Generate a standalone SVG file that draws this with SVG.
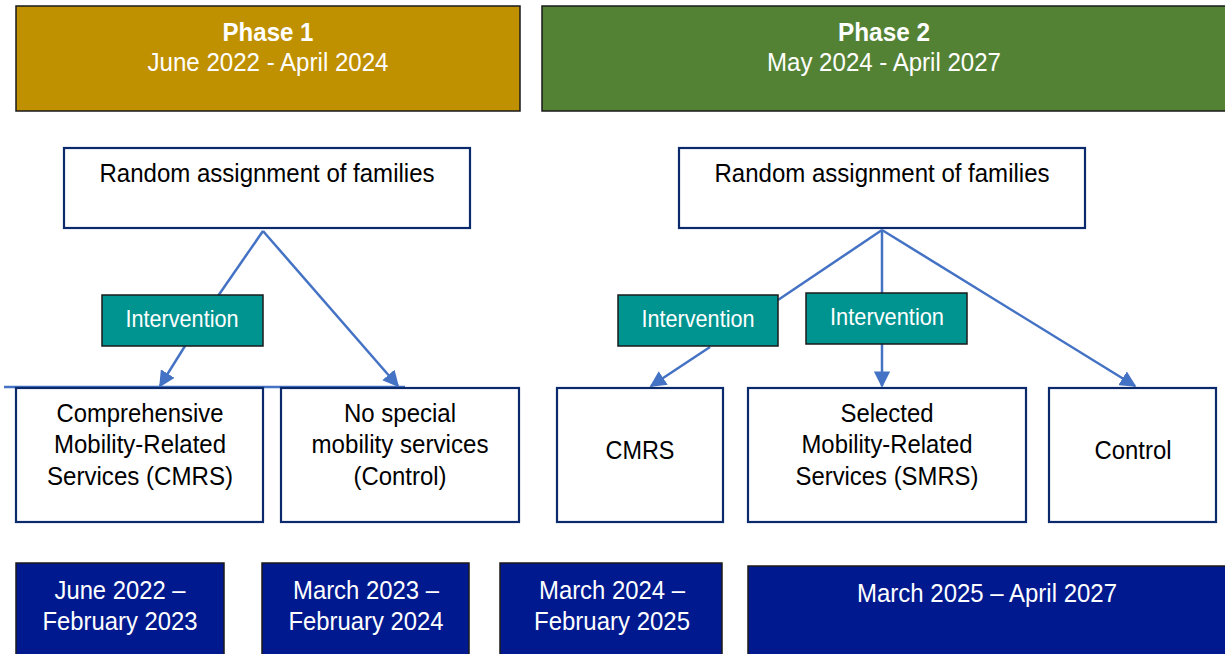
<svg xmlns="http://www.w3.org/2000/svg" width="1225" height="654" viewBox="0 0 1225 654">
  <defs>
    <marker id="arrow" viewBox="0 0 10 10" refX="9" refY="5" markerWidth="6.5" markerHeight="6.5" orient="auto" markerUnits="strokeWidth">
      <path d="M0,0 L10,5 L0,10 z" fill="#4472C4"/>
    </marker>
  </defs>
  <style>
    text { font-family: "Liberation Sans Narrow", "Liberation Sans", Arial, sans-serif; text-anchor: middle; }
    .phase1 { fill: #BF9000; stroke: #1a1a1a; stroke-width: 1.5; }
    .phase2 { fill: #548235; stroke: #1a1a1a; stroke-width: 1.5; }
    .box { fill: #ffffff; stroke: #0B2A6B; stroke-width: 2.2; }
    .interv { fill: #009490; stroke: #1a1a1a; stroke-width: 1.5; }
    .date { fill: #00198F; stroke: #1a1a1a; stroke-width: 1.5; }
    .white { fill: #ffffff; font-size: 26.5px; }
    .bold { font-weight: bold; }
    .dark { fill: #000000; font-size: 26.5px; }
    .ilabel { fill: #ffffff; font-size: 24.5px; }
    .conn { stroke: #4472C4; stroke-width: 2.5; fill: none; }
  </style>

  <!-- phase banners -->
  <g id="phase1">
    <rect class="phase1" x="16" y="6" width="504" height="105"/>
    <text class="white bold" x="268" y="41" textLength="91" lengthAdjust="spacingAndGlyphs">Phase 1</text>
    <text class="white" x="268" y="71" textLength="241" lengthAdjust="spacingAndGlyphs">June 2022 - April 2024</text>
  </g>
  <g id="phase2">
    <rect class="phase2" x="542" y="6" width="690" height="105"/>
    <text class="white bold" x="884" y="41" textLength="92" lengthAdjust="spacingAndGlyphs">Phase 2</text>
    <text class="white" x="884" y="71" textLength="234" lengthAdjust="spacingAndGlyphs">May 2024 - April 2027</text>
  </g>

  <!-- connectors -->
  <g id="connectors">
    <line class="conn" x1="263" y1="231" x2="218" y2="296"/>
    <line class="conn" x1="185" y1="346" x2="160" y2="386" marker-end="url(#arrow)"/>
    <line class="conn" x1="263" y1="231" x2="398" y2="386" marker-end="url(#arrow)"/>
    <line class="conn" x1="4" y1="387" x2="405" y2="387"/>
    <line class="conn" x1="213" y1="387" x2="213" y2="402"/>
    <line class="conn" x1="882" y1="230" x2="778" y2="300"/>
    <line class="conn" x1="710" y1="347" x2="651" y2="386" marker-end="url(#arrow)"/>
    <line class="conn" x1="882" y1="230" x2="882" y2="294"/>
    <line class="conn" x1="882" y1="344" x2="882" y2="386" marker-end="url(#arrow)"/>
    <line class="conn" x1="882" y1="230" x2="1135" y2="386" marker-end="url(#arrow)"/>
  </g>

  <!-- randomisation -->
  <g id="random1">
    <rect class="box" x="64" y="148" width="406" height="80"/>
    <text class="dark" x="267" y="182" textLength="335" lengthAdjust="spacingAndGlyphs">Random assignment of families</text>
  </g>
  <g id="random2">
    <rect class="box" x="679" y="148" width="406" height="80"/>
    <text class="dark" x="882" y="182" textLength="335" lengthAdjust="spacingAndGlyphs">Random assignment of families</text>
  </g>

  <!-- intervention tags -->
  <g id="intervention1">
    <rect class="interv" x="102" y="295" width="161" height="51"/>
    <text class="ilabel" x="182" y="327" textLength="113" lengthAdjust="spacingAndGlyphs">Intervention</text>
  </g>
  <g id="intervention2">
    <rect class="interv" x="618" y="295" width="160" height="51"/>
    <text class="ilabel" x="698" y="327" textLength="113" lengthAdjust="spacingAndGlyphs">Intervention</text>
  </g>
  <g id="intervention3">
    <rect class="interv" x="806" y="293" width="161" height="51"/>
    <text class="ilabel" x="887" y="325" textLength="114" lengthAdjust="spacingAndGlyphs">Intervention</text>
  </g>

  <!-- study arms -->
  <g id="cmrs1">
    <rect class="box" x="16" y="388" width="247" height="134"/>
    <text class="dark" x="140" y="422" textLength="167" lengthAdjust="spacingAndGlyphs">Comprehensive</text>
    <text class="dark" x="140" y="453" textLength="172" lengthAdjust="spacingAndGlyphs">Mobility-Related</text>
    <text class="dark" x="140" y="485" textLength="186" lengthAdjust="spacingAndGlyphs">Services (CMRS)</text>
  </g>
  <g id="control1">
    <rect class="box" x="281" y="388" width="238" height="134"/>
    <text class="dark" x="400" y="422" textLength="112" lengthAdjust="spacingAndGlyphs">No special</text>
    <text class="dark" x="400" y="453" textLength="177" lengthAdjust="spacingAndGlyphs">mobility services</text>
    <text class="dark" x="400" y="485" textLength="93" lengthAdjust="spacingAndGlyphs">(Control)</text>
  </g>
  <g id="cmrs2">
    <rect class="box" x="557" y="388" width="166" height="134"/>
    <text class="dark" x="640" y="459" textLength="69" lengthAdjust="spacingAndGlyphs">CMRS</text>
  </g>
  <g id="smrs">
    <rect class="box" x="748" y="388" width="278" height="134"/>
    <text class="dark" x="887" y="422" textLength="93" lengthAdjust="spacingAndGlyphs">Selected</text>
    <text class="dark" x="887" y="453" textLength="171" lengthAdjust="spacingAndGlyphs">Mobility-Related</text>
    <text class="dark" x="887" y="485" textLength="183" lengthAdjust="spacingAndGlyphs">Services (SMRS)</text>
  </g>
  <g id="control2">
    <rect class="box" x="1049" y="388" width="167" height="134"/>
    <text class="dark" x="1133" y="459" textLength="77" lengthAdjust="spacingAndGlyphs">Control</text>
  </g>

  <!-- timeline -->
  <g id="date1">
    <rect class="date" x="16" y="563" width="208" height="95"/>
    <text class="white" x="120" y="599" textLength="131" lengthAdjust="spacingAndGlyphs">June 2022 –</text>
    <text class="white" x="120" y="630" textLength="155" lengthAdjust="spacingAndGlyphs">February 2023</text>
  </g>
  <g id="date2">
    <rect class="date" x="262" y="563" width="207" height="95"/>
    <text class="white" x="366" y="599" textLength="146" lengthAdjust="spacingAndGlyphs">March 2023 –</text>
    <text class="white" x="366" y="630" textLength="155" lengthAdjust="spacingAndGlyphs">February 2024</text>
  </g>
  <g id="date3">
    <rect class="date" x="500" y="563" width="222" height="95"/>
    <text class="white" x="612" y="599" textLength="146" lengthAdjust="spacingAndGlyphs">March 2024 –</text>
    <text class="white" x="612" y="630" textLength="156" lengthAdjust="spacingAndGlyphs">February 2025</text>
  </g>
  <g id="date4">
    <rect class="date" x="748" y="566" width="485" height="92"/>
    <text class="white" x="987" y="602" textLength="260" lengthAdjust="spacingAndGlyphs">March 2025 – April 2027</text>
  </g>
</svg>
